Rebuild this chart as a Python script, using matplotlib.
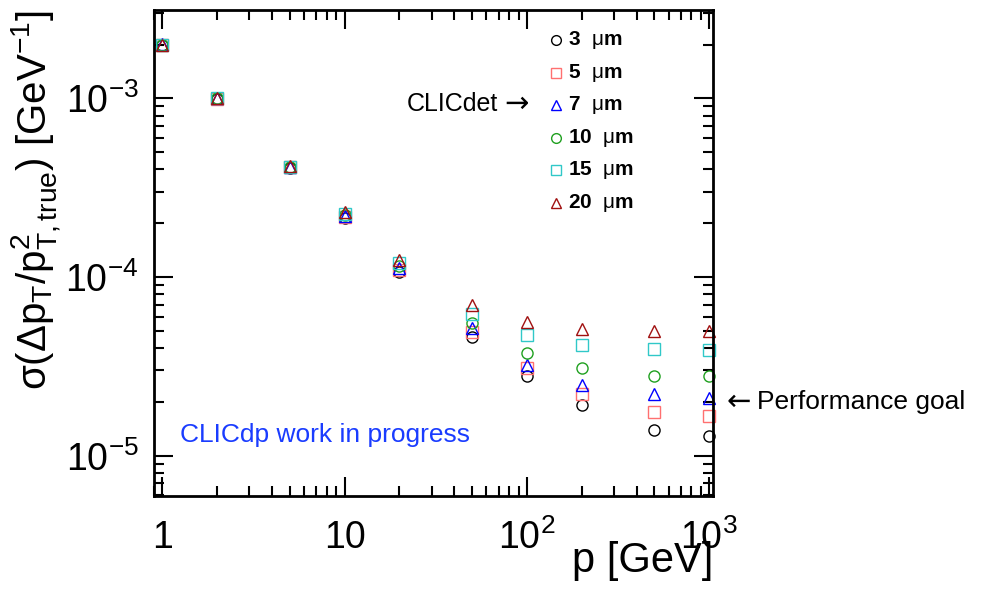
import matplotlib
matplotlib.use("Agg")
import matplotlib.pyplot as plt
from matplotlib.ticker import FixedLocator, LogLocator, NullFormatter, FixedFormatter
import numpy as np

plt.rcParams['font.family'] = ['Liberation Sans', 'DejaVu Sans']
plt.rcParams['mathtext.fontset'] = 'custom'
plt.rcParams['mathtext.rm'] = 'Liberation Sans'
plt.rcParams['mathtext.it'] = 'Liberation Sans'
plt.rcParams['mathtext.bf'] = 'Liberation Sans:bold'

p = [1, 2, 5, 10, 20, 50, 100, 200, 500, 1000]
labels = ["3", "5", "7", "10", "15", "20"]
res_3 = [2.0e-3, 0.99e-3, 4.10e-4, 2.15e-4, 1.06e-4, 4.6e-5, 2.79e-5, 1.92e-5, 1.39e-5, 1.29e-5]
res_5 = [2.0e-3, 0.99e-3, 4.12e-4, 2.18e-4, 1.10e-4, 4.94e-5, 3.08e-5, 2.21e-5, 1.76e-5, 1.67e-5]
res_7 = [2.02e-3, 1.0e-3, 4.13e-4, 2.2e-4, 1.12e-4, 5.2e-5, 3.22e-5, 2.49e-5, 2.22e-5, 2.11e-5]
res_10 = [2.0e-3, 1.0e-3, 4.14e-4, 2.22e-4, 1.15e-4, 5.55e-5, 3.77e-5, 3.1e-5, 2.79e-5, 2.79e-5]
res_15 = [2.0e-3, 1.0e-3, 4.15e-4, 2.25e-4, 1.2e-4, 6.2e-5, 4.72e-5, 4.16e-5, 3.97e-5, 3.9e-5]
res_20 = [2.0e-3, 1.0e-3, 4.16e-4, 2.3e-4, 1.24e-4, 6.97e-5, 5.62e-5, 5.12e-5, 5.01e-5, 5.0e-5]
series = [res_3, res_5, res_7, res_10, res_15, res_20]
markers = ['o', 's', '^', 'o', 's', '^']
colors = ['#000000', '#ff7070', '#0000ff', '#1fa01f', '#30c8c8', '#a01010']

fig = plt.figure(figsize=(9.88, 5.90), dpi=100)
ax = fig.add_axes([154/988, 1-496/590, (713-154)/988, (496-10)/590])
ax.set_xscale('log')
ax.set_yscale('log')
ax.set_xlim(0.9, 1050)
ax.set_ylim(5.95e-6, 3.12e-3)

for lab, ys, m, c in zip(labels, series, markers, colors):
    ax.plot(p, ys, linestyle='none', marker=m, markersize=8, markerfacecolor='none',
            markeredgecolor=c, markeredgewidth=1.0, clip_on=False)

def ax_x(px):
    return (px - 154) / 559

def ax_y(py):
    return 1 - (py - 10) / 486

# legend (manual, in axes coords)
for i, (lab, m, c) in enumerate(zip(labels, markers, colors)):
    yy = ax_y(40 + i * 32.6)
    ax.plot([ax_x(555.7)], [yy], transform=ax.transAxes, marker=m, markersize=7,
            markerfacecolor='none', markeredgecolor=c, markeredgewidth=1.0, clip_on=False)
    ax.text(ax_x(568), yy, lab + r"  $\mu$" + "m", transform=ax.transAxes,
            fontsize=15, fontweight='bold', va='center', ha='left')

ax.text(ax_x(498), ax_y(104), "CLICdet", transform=ax.transAxes,
        fontsize=18, va='center', ha='right')
ax.text(ax_x(504), ax_y(104), "\u2192", transform=ax.transAxes, family='DejaVu Sans',
        fontsize=21, va='center', ha='left')
ax.text(ax_x(727), ax_y(402), "\u2190", transform=ax.transAxes, family='DejaVu Sans',
        fontsize=21, va='center', ha='left')
ax.text(ax_x(757), ax_y(402), "Performance goal", transform=ax.transAxes,
        fontsize=19, va='center', ha='left')
ax.text(ax_x(180), ax_y(435), "CLICdp work in progress", transform=ax.transAxes,
        fontsize=19, va='center', ha='left', color='#1a3cff')

# ticks
ax.xaxis.set_major_locator(FixedLocator([1, 10, 100, 1000]))
ax.xaxis.set_major_formatter(FixedFormatter(["1", "10", r"$10^{2}$", r"$10^{3}$"]))
ax.xaxis.set_minor_locator(LogLocator(base=10, subs=np.arange(2, 10)))
ax.xaxis.set_minor_formatter(NullFormatter())
ax.yaxis.set_major_locator(FixedLocator([1e-5, 1e-4, 1e-3]))
ax.yaxis.set_major_formatter(FixedFormatter([r"$10^{-5}$", r"$10^{-4}$", r"$10^{-3}$"]))
ax.yaxis.set_minor_locator(LogLocator(base=10, subs=np.arange(2, 10)))
ax.yaxis.set_minor_formatter(NullFormatter())
ax.tick_params(which='both', direction='in', top=True, right=True, width=1.5)
ax.tick_params(which='major', length=14, labelsize=27)
ax.tick_params(which='minor', length=7)
ax.tick_params(axis='x', which='major', pad=17)
ax.tick_params(axis='y', which='major', pad=11)
for s in ax.spines.values():
    s.set_linewidth(2)

ax.set_xlabel("p [GeV]", fontsize=30, loc='right', labelpad=-12)
ax.set_ylabel(r"σ(Δp$_{T}$/p$^{2}_{T,true}$) [GeV$^{-1}$]", fontsize=29, loc='top', labelpad=2)

fig.savefig("out.png", dpi=100)
